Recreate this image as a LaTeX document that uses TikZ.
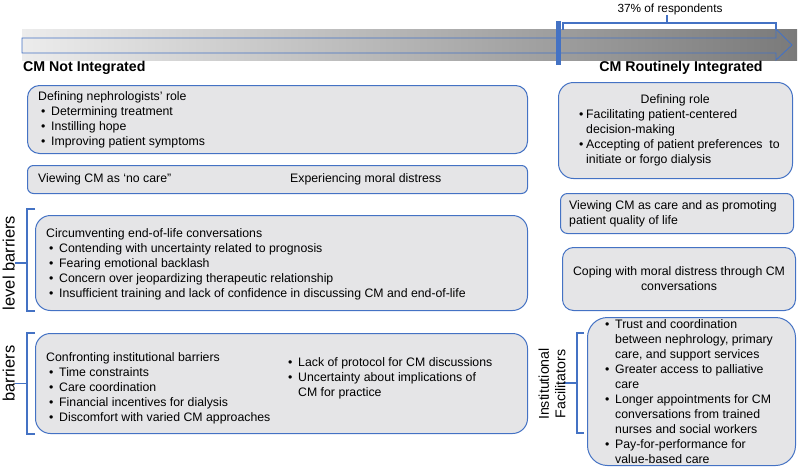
\documentclass[tikz,border=0pt]{standalone}
\usepackage{fontspec}
\setmainfont{Liberation Sans}
\usetikzlibrary{positioning,calc}
\definecolor{cmblue}{RGB}{68,114,196}
\definecolor{cmgray}{RGB}{229,229,231}
\definecolor{bandlight}{RGB}{236,236,236}
\definecolor{banddark}{RGB}{122,122,122}
\newcommand{\bl}[1][13pt]{\makebox[#1][l]{\hspace{3pt}\textbullet}}
\newcommand{\ind}[1][13pt]{\hspace*{#1}}

\begin{document}
\begin{tikzpicture}[x=1pt,y=-1pt,
    box/.style={draw=cmblue,fill=cmgray,line width=1pt,rounded corners=#1,anchor=north west,inner sep=0pt},
    box/.default=12pt,
    txt/.style={align=left,inner sep=0pt,font=\fontsize{12.3}{15}\selectfont},
    brk/.style={draw=cmblue,line width=1.1pt},
    side/.style={rotate=90,align=center,inner sep=0pt,font=\fontsize{#1}{16.5}\selectfont},
    side/.default=14.2,
    heading/.style={inner sep=0pt,font=\fontsize{14.2}{16}\selectfont\bfseries}]
  \useasboundingbox (0,0) rectangle (800,471);

  % progress arrow
  \node[anchor=north west,minimum width=775pt,minimum height=31pt,inner sep=0pt,
        left color=bandlight,right color=banddark] (band) at (22,29) {};
  \draw[cmblue,line width=0.9pt] (22,38) -- (776,38) -- (776,29) -- (792,45)
        -- (776,60) -- (776,53) -- (22,53) -- cycle;
  \draw[cmblue,line width=4.5pt] (558.5,21) -- (558.5,65);
  \draw[brk] (563,30) |- (776,23) -- (776,30);
  \draw[brk] (667,23) -- (667,15) coordinate (share);
  \node[inner sep=0pt,anchor=south,font=\fontsize{11.8}{13}\selectfont] (sharelab)
        at ([xshift=3pt]share) {37\% of respondents};

  \node[heading,anchor=north west] (notint) at (23,61) {CM Not Integrated};
  \node[heading,anchor=north] (routine) at (681,61) {CM Routinely Integrated};

  % CM not integrated
  \node[box,minimum width=500pt,minimum height=68pt] (rolebox) at (27,85) {};
  \node[txt,right=11pt of rolebox.west] (roletxt) {Defining nephrologists' role\\
    \bl Determining treatment\\ \bl Instilling hope\\ \bl Improving patient symptoms};

  \node[box=6pt,minimum width=500pt,minimum height=28pt] (carebox) at (27,165) {};
  \node[txt,right=11pt of carebox.west] (caretxt)
        {\makebox[252pt][l]{Viewing CM as ‘no care”}Experiencing moral distress};

  \node[box=15pt,minimum width=492pt,minimum height=95pt] (eolbox) at (35,215) {};
  \node[txt,right=11pt of eolbox.west,yshift=-1.5pt] (eoltxt) {Circumventing end-of-life conversations\\
    \bl Contending with uncertainty related to prognosis\\
    \bl Fearing emotional backlash\\
    \bl Concern over jeopardizing therapeutic relationship\\
    \bl Insufficient training and lack of confidence in discussing CM and end-of-life};

  \node[box=15pt,minimum width=492pt,minimum height=100pt] (instbox) at (35,333) {};
  \node[txt,right=11pt of instbox.west,yshift=-5pt] (insttxt) {Confronting institutional barriers\\
    \bl Time constraints\\ \bl Care coordination\\
    \bl Financial incentives for dialysis\\ \bl Discomfort with varied CM approaches};
  \node[txt,anchor=north west] (prottxt) at ($(insttxt.north west)+(239,4.5)$)
        {\bl Lack of protocol for CM discussions\\
         \bl Uncertainty about implications of\\ \ind CM for practice};

  % brackets on the left
  \draw[brk] ([yshift=6pt]eolbox.north west) -- ++(-8,0) |- (eolbox.south west);
  \draw[brk] ([xshift=-8pt]eolbox.west) -- ++(-12,0) coordinate (eoltip);
  \node[side=16.5,anchor=south] (eollab) at (eoltip) {level barriers};

  \draw[brk] (instbox.north west) -- ++(-8,0) |- (instbox.south west);
  \draw[brk] ([xshift=-8pt]instbox.west) -- ++(-12,0) coordinate (insttip);
  \node[side=16.5,anchor=south] (instlab) at ([yshift=10pt]insttip) {barriers};

  % CM routinely integrated
  \node[box=15pt,minimum width=234pt,minimum height=96pt] (defbox) at (558,82) {};
  \node[txt,right=18pt of defbox.west] (deftxt) {\makebox[198pt]{Defining role}\\
    \bl[10pt]Facilitating patient-centered\\ \ind[10pt]decision-making\\
    \bl[10pt]Accepting of patient preferences\ \ to\\ \ind[10pt]initiate or forgo dialysis};

  \node[box=7pt,minimum width=233pt,minimum height=40pt] (viewbox) at (560,193) {};
  \node[txt,right=9pt of viewbox.west] (viewtxt)
        {Viewing CM as care and as promoting\\ patient quality of life};

  \node[box=11pt,minimum width=233pt,minimum height=63pt] (copebox) at (562,247) {};
  \node[txt,align=center] (copetxt) at (copebox.center)
        {Coping with moral distress through CM\\ conversations};

  \node[box=20pt,minimum width=208pt,minimum height=148pt] (facbox) at (587,317) {};
  \node[txt,right=15pt of facbox.west] (factxt) {\bl Trust and coordination\\
    \ind between nephrology, primary\\ \ind care, and support services\\
    \bl Greater access to palliative\\ \ind care\\
    \bl Longer appointments for CM\\ \ind conversations from trained\\
    \ind nurses and social workers\\
    \bl Pay-for-performance for\\ \ind value-based care};

  % bracket on the right
  \draw[brk] (584,333) -| (577,433) -- (584,433);
  \draw[brk] (577,383) -- (563,383) coordinate (factip);
  \node[side] (faclab) at (552,384) {Institutional\\ Facilitators};
\end{tikzpicture}
\end{document}
